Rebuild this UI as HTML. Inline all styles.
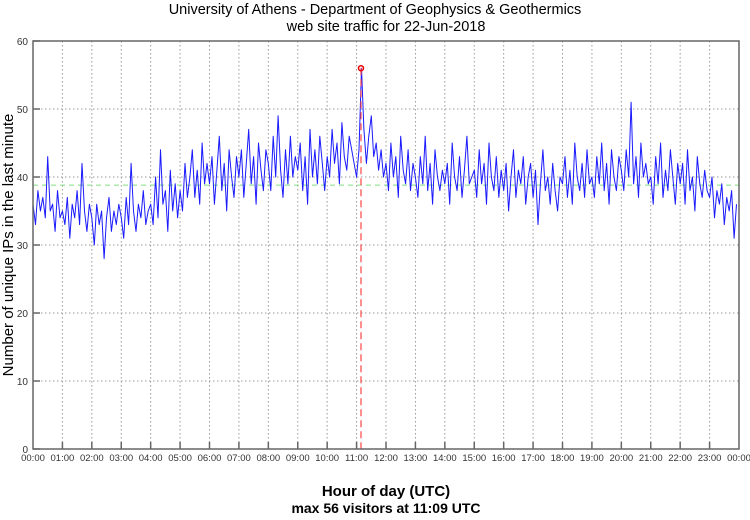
<!DOCTYPE html>
<html><head><meta charset="utf-8"><style>
html,body{margin:0;padding:0;background:#fff;}
body{width:750px;height:515px;overflow:hidden;font-family:"Liberation Sans",sans-serif;}
</style></head><body>
<svg id="chart" width="750" height="515" xmlns="http://www.w3.org/2000/svg" font-family="Liberation Sans, sans-serif">
<text x="375" y="14" text-anchor="middle" font-size="14.5">University of Athens - Department of Geophysics &amp; Geothermics</text>
<text x="386" y="31" text-anchor="middle" font-size="14.5">web site traffic for 22-Jun-2018</text>
<text transform="translate(13,245) rotate(-90)" text-anchor="middle" font-size="15">Number of unique IPs in the last minute</text>
<text x="386" y="496" text-anchor="middle" font-size="15" font-weight="bold">Hour of day (UTC)</text>
<text x="386" y="513" text-anchor="middle" font-size="14" font-weight="bold">max 56 visitors at 11:09 UTC</text>
<g id="grid"></g><g id="marks"></g><g id="axes"></g>
</svg>
<script>
const yTicks=[0,10,20,30,40,50,60];
const xTickLabels=["00:00","01:00","02:00","03:00","04:00","05:00","06:00","07:00","08:00","09:00","10:00","11:00","12:00","13:00","14:00","15:00","16:00","17:00","18:00","19:00","20:00","21:00","22:00","23:00","00:00"];
const stepMinutes=5;
const visitors=[
36,33,38,35,37,34,43,35,36,32,38,34,
35,33,37,31,36,34,38,33,42,35,32,36,
34,30,36,33,35,28,34,37,32,35,33,36,
34,31,37,33,42,35,32,36,34,38,33,35,
36,33,40,34,44,36,38,32,41,35,39,34,
38,35,42,37,40,44,37,41,36,45,39,42,
39,43,36,41,46,38,42,35,44,40,37,43,
40,44,37,42,47,39,43,36,45,41,38,44,
42,38,46,40,49,41,37,44,39,46,40,43,
41,45,38,43,36,47,40,44,39,46,42,38,
43,40,47,42,45,39,48,43,41,46,44,42,
40,44,56,47,42,46,49,43,45,41,44,40,
42,38,45,40,43,37,46,41,39,44,38,42,
40,37,43,39,46,38,42,36,44,40,38,41,
39,42,36,45,40,38,43,37,41,46,39,40,
41,37,44,39,42,36,45,40,38,43,37,41,
38,42,35,40,44,37,41,39,43,36,40,42,
37,41,33,39,44,38,40,36,42,38,35,40,
39,43,37,41,36,45,40,38,42,37,44,39,
40,37,43,39,45,38,42,36,44,40,38,43,
41,38,44,40,51,39,43,37,45,40,42,39,
40,36,43,39,45,37,41,38,44,40,36,42,
39,42,36,44,38,40,35,43,39,37,41,38,
37,40,34,38,36,39,33,37,35,38,31,36];
const peakMinute=[669];
const peakValue=[56];
const meanValue=[38.8];

const L=33,R=739,T=41,B=449;
const X=m=>L+(R-L)*m/1440;
const Y=v=>B-(B-T)*v/60;
const NS="http://www.w3.org/2000/svg";
function mk(tag,parent,attrs){const e=document.createElementNS(NS,tag);for(const k in attrs)e.setAttribute(k,attrs[k]);parent.appendChild(e);return e;}
const grid=document.getElementById('grid'),marks=document.getElementById('marks'),axes=document.getElementById('axes');

yTicks.forEach(v=>{
  if(v>0&&v<60){const g=mk('line',grid,{x1:L,x2:R,y1:Y(v),y2:Y(v),stroke:'#999','stroke-dasharray':'1.5,2.5','stroke-width':1});
  
  }
  const tk=mk('line',axes,{x1:L,x2:L+7,y1:Y(v),y2:Y(v),stroke:'#666','stroke-width':1.5});
  
  
  const t=mk('text',axes,{x:L-5,y:Y(v)+4,'text-anchor':'end','font-size':10,fill:'#333'});
  t.textContent=v;
  
  
});
xTickLabels.forEach((lab,i)=>{
  const x=X(i*60);
  if(i>0&&i<24){const g=mk('line',grid,{x1:x,x2:x,y1:T,y2:B,stroke:'#999','stroke-dasharray':'1.5,2.5','stroke-width':1});
  
  
  const tk=mk('line',axes,{x1:x,x2:x,y1:B,y2:B-7,stroke:'#666','stroke-width':1.5});
  
  }
  const t=mk('text',axes,{x:x,y:B+12,'text-anchor':'middle','font-size':9.5,fill:'#333'});
  t.textContent=lab;
  
  
});
const mean=mk('line',marks,{x1:L,x2:R,y1:Y(meanValue[0]),y2:Y(meanValue[0]),stroke:'#7fdf7f','stroke-dasharray':'5,4','stroke-width':1});


const pts=visitors.map((v,i)=>X(i*stepMinutes).toFixed(1)+','+Y(v).toFixed(1)).join(' ');
const line=mk('polyline',marks,{points:pts,fill:'none',stroke:'#1a1aff','stroke-width':1,'stroke-linejoin':'round'});


const vl=mk('line',marks,{x1:X(peakMinute[0]),x2:X(peakMinute[0]),y1:Y(peakValue[0]),y2:B,stroke:'#ff4444','stroke-dasharray':'7,4','stroke-width':1.2});


const pk=mk('circle',marks,{cx:X(peakMinute[0]),cy:Y(peakValue[0]),r:2.5,fill:'none',stroke:'#ee0000','stroke-width':1.5});


const frame=mk('rect',axes,{x:L,y:T,width:R-L,height:B-T,fill:'none',stroke:'#666','stroke-width':1.5});


</script>
</body></html>
